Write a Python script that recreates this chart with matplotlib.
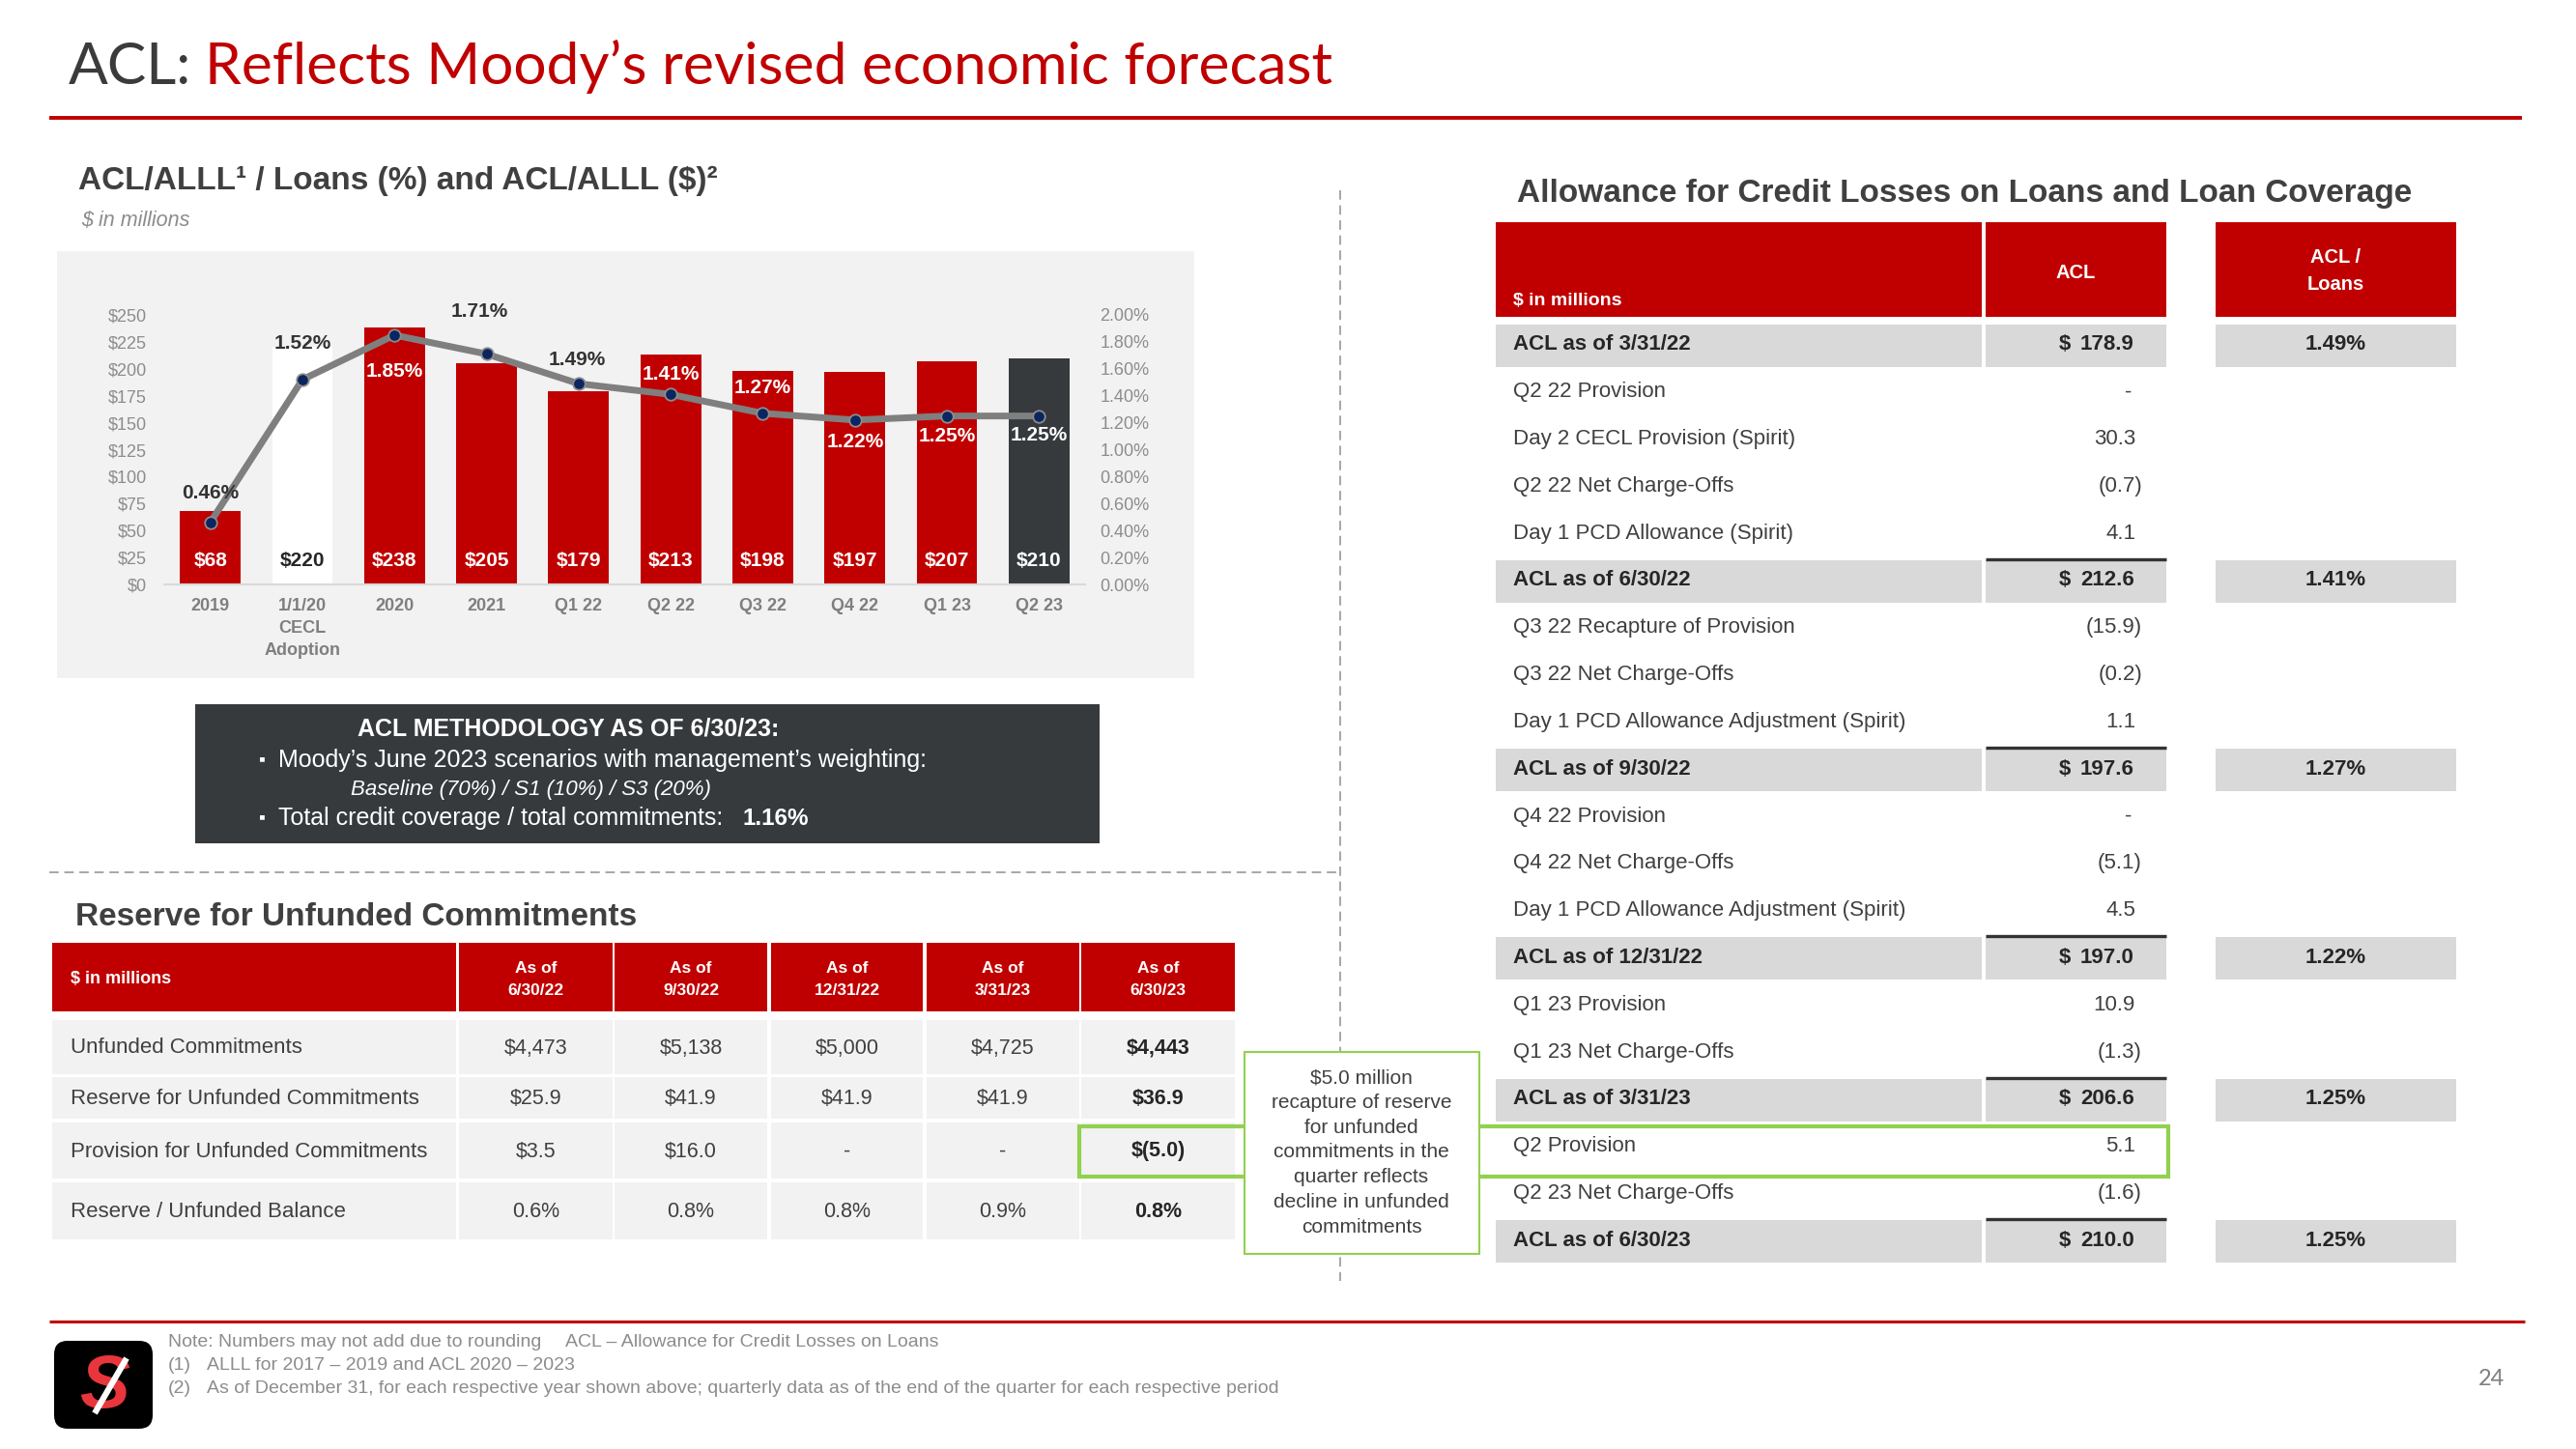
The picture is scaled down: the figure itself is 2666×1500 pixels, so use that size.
import matplotlib
matplotlib.use('Agg')
import matplotlib.pyplot as plt
from matplotlib.patches import Rectangle, FancyBboxPatch
import numpy as np

plt.rcParams['font.family'] = ['Liberation Sans', 'DejaVu Sans']

# chart data
periods = ['2019', '1/1/20\nCECL\nAdoption', '2020', '2021', 'Q1 22', 'Q2 22',
           'Q3 22', 'Q4 22', 'Q1 23', 'Q2 23']
acl_dollars = [68, 220, 238, 205, 179, 213, 198, 197, 207, 210]
acl_pct = [0.46, 1.52, 1.85, 1.71, 1.49, 1.41, 1.27, 1.22, 1.25, 1.25]

# reserve for unfunded commitments
unf_cols = ['As of\n6/30/22', 'As of\n9/30/22', 'As of\n12/31/22', 'As of\n3/31/23', 'As of\n6/30/23']
unf_rows = ['Unfunded Commitments', 'Reserve for Unfunded Commitments',
            'Provision for Unfunded Commitments', 'Reserve / Unfunded Balance']
unf_vals = [['$4,473', '$5,138', '$5,000', '$4,725', '$4,443'],
            ['$25.9', '$41.9', '$41.9', '$41.9', '$36.9'],
            ['$3.5', '$16.0', '-', '-', '$(5.0)'],
            ['0.6%', '0.8%', '0.8%', '0.9%', '0.8%']]

# allowance roll forward
acl_items = ['ACL as of 3/31/22', 'Q2 22 Provision', 'Day 2 CECL Provision (Spirit)',
             'Q2 22 Net Charge-Offs', 'Day 1 PCD Allowance (Spirit)', 'ACL as of 6/30/22',
             'Q3 22 Recapture of Provision', 'Q3 22 Net Charge-Offs',
             'Day 1 PCD Allowance Adjustment (Spirit)', 'ACL as of 9/30/22', 'Q4 22 Provision',
             'Q4 22 Net Charge-Offs', 'Day 1 PCD Allowance Adjustment (Spirit)',
             'ACL as of 12/31/22', 'Q1 23 Provision', 'Q1 23 Net Charge-Offs',
             'ACL as of 3/31/23', 'Q2 Provision', 'Q2 23 Net Charge-Offs', 'ACL as of 6/30/23']
acl_amounts = ['178.9', '-', '30.3', '(0.7)', '4.1', '212.6', '(15.9)', '(0.2)', '1.1',
               '197.6', '-', '(5.1)', '4.5', '197.0', '10.9', '(1.3)', '206.6', '5.1',
               '(1.6)', '210.0']
acl_coverage = ['1.49%', '', '', '', '', '1.41%', '', '', '', '1.27%', '', '', '',
                '1.22%', '', '', '1.25%', '', '', '1.25%']

RED = '#C00000'
DARK = '#363A3D'
TXT = '#404040'
W, H = 2666, 1500

fig = plt.figure(figsize=(W / 100, H / 100), dpi=100)
bg = fig.add_axes([0, 0, 1, 1])
bg.set_xlim(0, W)
bg.set_ylim(H, 0)
bg.axis('off')


def box(x0, y0, x1, y1, fc, ec='none', lw=0, z=1):
    bg.add_patch(Rectangle((x0, y0), x1 - x0, y1 - y0, facecolor=fc, edgecolor=ec,
                           linewidth=lw, zorder=z))


# title and rules
t = bg.text(71, 87, 'ACL:', fontsize=43.5, family='Lato', color='#3B3B3B', va='baseline')
bg.annotate('Reflects Moody\u2019s revised economic forecast', xy=(1, 0), xycoords=t,
            xytext=(10, 0), textcoords='offset points', va='bottom', ha='left',
            fontsize=43.5, family='Lato', color=RED)
bg.plot([51, 2610], [122, 122], color=RED, lw=2.8, solid_capstyle='butt')
bg.plot([51, 2613], [1368, 1368], color=RED, lw=2.2, solid_capstyle='butt')
bg.plot([1387, 1387], [197, 1326], color='#A6A6A6', lw=1.4, ls=(0, (5, 3)))
bg.plot([51, 1387], [903, 903], color='#A6A6A6', lw=1.4, ls=(0, (5, 3)))

# chart heading
bg.text(81, 187, 'ACL/ALLL\u00b9 / Loans (%) and ACL/ALLL ($)\u00b2', fontsize=24,
        weight='bold', color=TXT, va='center')
bg.text(84, 228, '$ in millions', fontsize=15.5, style='italic', color='#8C8C8C', va='center')
box(59, 260, 1236, 702, '#F2F2F2', z=0)

# chart
ax = fig.add_axes([170 / W, 1 - 605 / H, (1123 - 170) / W, (605 - 326) / H])
ax.patch.set_alpha(0)
x = np.arange(len(periods))
colors = [RED] * len(periods)
colors[1] = 'white'
colors[-1] = DARK
ax.bar(x, acl_dollars, width=0.66, color=colors, zorder=2)
ax.set_xlim(-0.5, 9.5)
ax.set_ylim(0, 250)
ax.set_yticks(range(0, 251, 25))
ax.set_yticklabels(['$%d' % v for v in range(0, 251, 25)])
ax.set_xticks(x)
ax.set_xticklabels(periods, fontsize=13, weight='bold', color='#7F7F7F', linespacing=1.45)
ax.tick_params(axis='y', length=0, pad=13, labelsize=13, labelcolor='#8C8C8C')
ax.tick_params(axis='x', length=0, pad=10)
for s in ['left', 'right', 'top']:
    ax.spines[s].set_visible(False)
ax.spines['bottom'].set_color('#D9D9D9')
ax.spines['bottom'].set_linewidth(1.5)
for i, v in enumerate(acl_dollars):
    ax.text(i, 22, '$%d' % v, ha='center', va='center', fontsize=15, weight='bold',
            color='#262626' if i == 1 else 'white', zorder=4)

ax2 = ax.twinx()
ax2.set_ylim(0, 2.0)
ax2.set_yticks(np.arange(0, 2.01, 0.2))
ax2.set_yticklabels(['%.2f%%' % v for v in np.arange(0, 2.01, 0.2)])
ax2.tick_params(axis='y', length=0, pad=11, labelsize=13, labelcolor='#8C8C8C')
for s in ax2.spines.values():
    s.set_visible(False)
ax2.plot(x, acl_pct, color='#7F7F7F', lw=5, marker='o', ms=9, mfc='#0B2560',
         mec='#8C8C8C', mew=1.3, zorder=3)
lab_dx = [0, 0, 0, -5, -1, 0, 0, 0, 0, 0]
lab_dy = [22, 27, -27, 32, 18, 15, 19, -16, -15, -14]
for i, v in enumerate(acl_pct):
    ax2.annotate('%.2f%%' % v, (i, v), xytext=(lab_dx[i], lab_dy[i]), textcoords='offset points',
                 ha='center', va='center', fontsize=15, weight='bold',
                 color='#333333' if i in (0, 1, 3, 4) else 'white', zorder=5)

# methodology box
box(202, 729, 1138, 873, DARK)
bg.text(370, 755, 'ACL METHODOLOGY AS OF 6/30/23:', fontsize=18, weight='bold',
        color='white', va='center')
bg.text(268, 787, '\u25aa', fontsize=14, color='white', va='center')
bg.text(288, 787, 'Moody\u2019s June 2023 scenarios with management\u2019s weighting:',
        fontsize=18, color='white', va='center')
bg.text(363, 817, 'Baseline (70%) / S1 (10%) / S3 (20%)', fontsize=16, style='italic',
        color='white', va='center')
bg.text(268, 847, '\u25aa', fontsize=14, color='white', va='center')
bg.text(288, 847, 'Total credit coverage / total commitments:', fontsize=18,
        color='white', va='center')
bg.text(768, 847, '1.16%', fontsize=17.5, weight='bold', color='white', va='center')

# unfunded commitments table
bg.text(78, 949, 'Reserve for Unfunded Commitments', fontsize=24, weight='bold',
        color=TXT, va='center')
col_x = [(54, 472), (475, 634), (636, 794), (798, 955), (959, 1117), (1119, 1278)]
row_y = [(1056, 1112), (1115, 1158), (1162, 1220), (1224, 1283)]
for x0, x1 in col_x:
    box(x0, 976, x1, 1047, RED)
bg.text(73, 1014, '$ in millions', fontsize=13, weight='bold', color='white', va='center')
for j, c in enumerate(unf_cols):
    x0, x1 = col_x[j + 1]
    bg.text((x0 + x1) / 2, 1014, c, fontsize=12.5, weight='bold', color='white',
            ha='center', va='center', linespacing=1.6)
for i, r in enumerate(unf_rows):
    y0, y1 = row_y[i]
    yc = (y0 + y1) / 2 + 1
    for x0, x1 in col_x:
        box(x0, y0, x1, y1, '#F2F2F2')
    bg.text(73, yc, r, fontsize=16, color=TXT, va='center')
    for j, v in enumerate(unf_vals[i]):
        x0, x1 = col_x[j + 1]
        bg.text((x0 + x1) / 2, yc, v, fontsize=15.5, color='#262626' if j == 4 else TXT,
                weight='bold' if j == 4 else 'normal', ha='center', va='center')

# green highlight across to the allowance table
bg.add_patch(Rectangle((1117, 1166), 2244 - 1117, 1218 - 1166, facecolor='none',
                       edgecolor='#92D050', linewidth=3, zorder=3))
box(1288, 1089, 1531, 1298, 'white', ec='#92D050', lw=1.5, z=4)
bg.text(1409, 1193, '$5.0 million\nrecapture of reserve\nfor unfunded\ncommitments in the\n'
        'quarter reflects\ndecline in unfunded\ncommitments', fontsize=15, color=TXT,
        ha='center', va='center', linespacing=1.45, zorder=5)

# allowance table
bg.text(1570, 201, 'Allowance for Credit Losses on Loans and Loan Coverage', fontsize=24,
        weight='bold', color=TXT, va='center')
rc = [(1548, 2051), (2055, 2242), (2293, 2542)]
for x0, x1 in rc:
    box(x0, 230, x1, 328, RED)
bg.text(1566, 311, '$ in millions', fontsize=14, weight='bold', color='white', va='center')
bg.text(sum(rc[1]) / 2, 282, 'ACL', fontsize=14.5, weight='bold', color='white',
        ha='center', va='center')
bg.text(sum(rc[2]) / 2, 281, 'ACL /\nLoans', fontsize=14.5, weight='bold', color='white',
        ha='center', va='center', linespacing=1.6)
for i, item in enumerate(acl_items):
    yc = 357 + 48.8 * i
    total = item.startswith('ACL as of')
    if total:
        for x0, x1 in rc:
            box(x0, yc - 21, x1, yc + 23, '#D9D9D9')
        if i > 0:
            bg.plot([2055, 2242], [yc - 22, yc - 22], color='#333333', lw=2.4,
                    solid_capstyle='butt', zorder=2)
        bg.text(1566, yc, item, fontsize=16, weight='bold', color='#262626', va='center')
        bg.text(2131, yc, '$', fontsize=16, weight='bold', color='#262626', va='center')
        bg.text(2209, yc, acl_amounts[i], fontsize=16, weight='bold', color='#262626',
                ha='right', va='center')
        bg.text(sum(rc[2]) / 2, yc, acl_coverage[i], fontsize=16, weight='bold',
                color='#262626', ha='center', va='center')
    else:
        v = acl_amounts[i]
        xr = 2217 if v.endswith(')') else (2206 if v == '-' else 2210)
        bg.text(1566, yc, item, fontsize=16, color=TXT, va='center')
        bg.text(xr, yc, v, fontsize=16, color=TXT, ha='right', va='center')

# footer
bg.add_patch(FancyBboxPatch((56, 1388), 102, 91, boxstyle='round,pad=0,rounding_size=14',
                            facecolor='black', edgecolor='none', zorder=1))
bg.text(108, 1436, 'S', fontsize=56, weight='bold', style='italic', color='#E8363C',
        ha='center', va='center', zorder=2)
bg.plot([131, 98], [1406, 1463], color='white', lw=4.5, solid_capstyle='butt', zorder=3)
fn = dict(fontsize=14, color='#8C8C8C', va='center')
bg.text(174, 1390, 'Note: Numbers may not add due to rounding', **fn)
bg.text(585, 1390, 'ACL \u2013 Allowance for Credit Losses on Loans', **fn)
bg.text(174, 1413, '(1)', **fn)
bg.text(214, 1413, 'ALLL for 2017 \u2013 2019 and ACL 2020 \u2013 2023', **fn)
bg.text(174, 1437, '(2)', **fn)
bg.text(214, 1437, 'As of December 31, for each respective year shown above; quarterly data '
        'as of the end of the quarter for each respective period', **fn)
bg.text(2578, 1427, '24', fontsize=17, family='Lato', color='#7F7F7F', ha='center', va='center')

fig.savefig('out.png', dpi=100)
